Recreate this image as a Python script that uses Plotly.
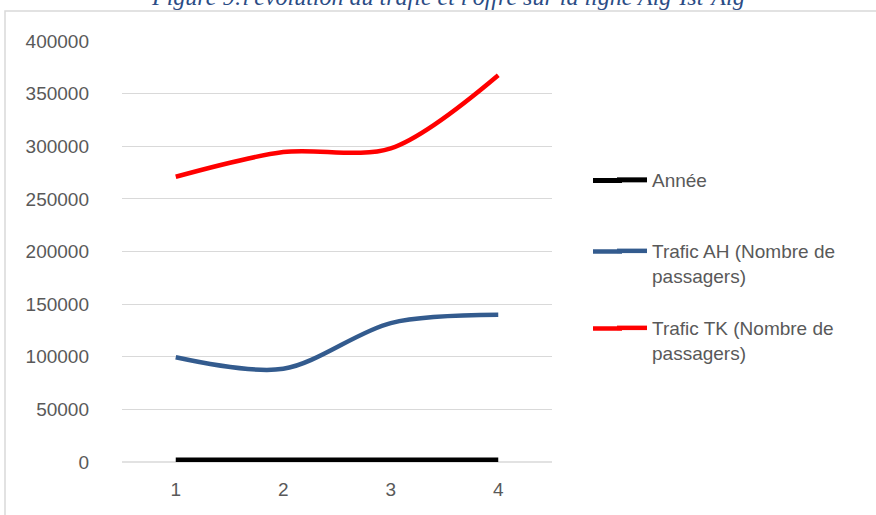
import plotly.graph_objects as go

x_labels = [1, 2, 3, 4]
annee = [2015, 2016, 2017, 2018]
trafic_ah = [99500, 88500, 132000, 139800]
trafic_tk = [271000, 294500, 298000, 367500]

names = ["Année", "Trafic AH (Nombre de<br>passagers)", "Trafic TK (Nombre de<br>passagers)"]
colors = ["#000000", "#335B8E", "#FF0000"]
series = [annee, trafic_ah, trafic_tk]

L, T, W, H = 122, 41, 430, 421

def px_x(p):
    return (p - L) / W

def px_y(p):
    return (T + H - p) / H

fig = go.Figure()
legends = ["legend", "legend2", "legend3"]
for nm, col, vals, lg in zip(names, colors, series, legends):
    fig.add_trace(go.Scatter(
        x=x_labels, y=vals, name=nm, mode="lines",
        line=dict(color=col, width=5 if col == "#000000" else 4.5, shape="spline", smoothing=0.9),
        legend=lg,
    ))

legend_common = dict(
    font=dict(family="Liberation Sans", size=19, color="#595959"),
    bgcolor="rgba(0,0,0,0)", borderwidth=0, xanchor="left", yanchor="top",
    valign="top", itemwidth=30,
)

legend_tops = [161, 232, 309]

# legend key extensions (Excel draws longer legend keys)
key_shapes = []
for col, top in zip(colors, legend_tops):
    yk = top + 19.5
    key_shapes.append(dict(type="line", xref="paper", yref="paper",
                           x0=px_x(593), x1=px_x(622), y0=px_y(yk), y1=px_y(yk),
                           line=dict(color=col, width=5 if col == "#000000" else 4.5)))

fig.update_layout(
    width=876, height=515,
    margin=dict(l=L, r=876 - L - W, t=T, b=515 - T - H),
    paper_bgcolor="white", plot_bgcolor="white",
    showlegend=True,
    legend=dict(x=px_x(612), y=px_y(legend_tops[0]), **legend_common),
    legend2=dict(x=px_x(612), y=px_y(legend_tops[1]), **legend_common),
    legend3=dict(x=px_x(612), y=px_y(legend_tops[2]), **legend_common),
    xaxis=dict(
        range=[0.5, 4.5], tickvals=x_labels, ticktext=[str(v) for v in x_labels],
        showgrid=False, zeroline=False, showline=False, ticks="",
        tickfont=dict(family="Liberation Sans", size=19, color="#595959"),
        ticklabelstandoff=14, fixedrange=True,
    ),
    yaxis=dict(
        range=[0, 400000], tickvals=list(range(0, 400001, 50000)),
        ticktext=[str(v) for v in range(0, 400001, 50000)],
        showgrid=True, gridcolor="#D9D9D9", gridwidth=1.3,
        zeroline=False, showline=False, ticks="",
        tickfont=dict(family="Liberation Sans", size=19, color="#595959"),
        ticklabelstandoff=32, fixedrange=True,
    ),
    shapes=[
        dict(type="line", xref="paper", yref="paper", x0=0, x1=1, y0=0, y1=0,
             line=dict(color="#D9D9D9", width=1.3), layer="below"),
        dict(type="rect", xref="paper", yref="paper",
             x0=px_x(5), y0=px_y(600), x1=px_x(1000), y1=px_y(11),
             line=dict(color="#D9D9D9", width=1.5), fillcolor="rgba(0,0,0,0)"),
    ] + key_shapes,
    annotations=[
        dict(text="Figure 9:l'évolution du trafic et l'offre sur la ligne Alg-Ist-Alg",
             xref="paper", yref="paper", x=px_x(448), y=px_y(-3), xanchor="center", yanchor="middle",
             showarrow=False, font=dict(family="Liberation Serif", size=24, color="#2B4C85", style="italic")),
    ],
)

fig.write_html("out.html")
